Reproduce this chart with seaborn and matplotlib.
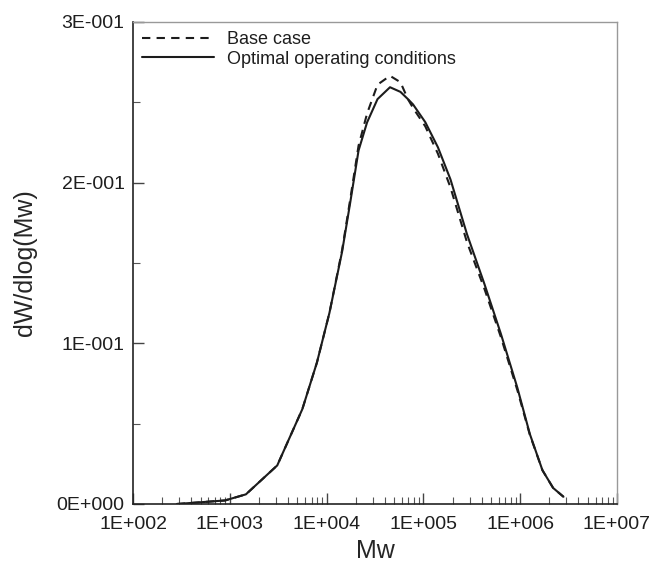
import numpy as np
import pandas as pd
import matplotlib
matplotlib.use("Agg")
import matplotlib.pyplot as plt
import matplotlib.ticker as mticker
import seaborn as sns

# molecular weight grid
mw = [284, 891, 1466, 3090, 5610, 7940, 10700, 14450, 17580, 21380, 26180,
      33570, 45190, 57940, 69180, 78160, 104700, 141300, 190500, 281800,
      426600, 631000, 933300, 1259000, 1698000, 2188000, 2800000]

base_case = [0.0, 0.0022, 0.006, 0.024, 0.059, 0.088, 0.119, 0.158, 0.190,
             0.223, 0.243, 0.261, 0.2665, 0.2625, 0.252, 0.2465, 0.235,
             0.218, 0.197, 0.163, 0.134, 0.104, 0.071, 0.043, 0.021, 0.010,
             0.0045]

optimal = [0.0, 0.0022, 0.006, 0.024, 0.059, 0.088, 0.119, 0.157, 0.188,
           0.220, 0.2375, 0.252, 0.2594, 0.2565, 0.252, 0.2487, 0.2376,
           0.222, 0.202, 0.168, 0.137, 0.106, 0.0725, 0.0435, 0.021, 0.010,
           0.0045]

series_names = ["Base case", "Optimal operating conditions"]

x_ticks = [1e2, 1e3, 1e4, 1e5, 1e6, 1e7]
x_tick_labels = ["1E+002", "1E+003", "1E+004", "1E+005", "1E+006", "1E+007"]
y_ticks = [0.0, 0.1, 0.2, 0.3]
y_tick_labels = ["0E+000", "1E-001", "2E-001", "3E-001"]

df = pd.concat([
    pd.DataFrame({"Mw": mw, "dW": base_case, "case": series_names[0]}),
    pd.DataFrame({"Mw": mw, "dW": optimal, "case": series_names[1]}),
])

sns.set_style("ticks")
plt.rcParams["font.family"] = ["Liberation Sans", "DejaVu Sans"]
plt.rcParams["text.color"] = "#1e1e1e"

fig = plt.figure(figsize=(6.54, 5.64), dpi=100)
ax = fig.add_axes([0.2034, 0.1064, 0.740, 0.8546])

sns.lineplot(data=df, x="Mw", y="dW", hue="case", style="case",
             palette=["#1c1c1c", "#1c1c1c"],
             dashes={series_names[0]: (4, 3), series_names[1]: ""},
             linewidth=1.5, ax=ax, sort=False)

ax.set_xscale("log")
ax.set_xlim(1e2, 1e7)
ax.set_ylim(0, 0.3)
ax.set_xticks(x_ticks)
ax.set_xticklabels(x_tick_labels)
ax.set_yticks(y_ticks)
ax.set_yticklabels(y_tick_labels)
ax.xaxis.set_minor_locator(mticker.LogLocator(base=10, subs=np.arange(2, 10)))
ax.xaxis.set_minor_formatter(mticker.NullFormatter())
ax.yaxis.set_minor_locator(mticker.MultipleLocator(0.05))

ax.tick_params(axis="both", which="major", direction="in", length=8,
               width=1, labelsize=14, color="#444444", labelcolor="#1e1e1e")
ax.tick_params(axis="both", which="minor", direction="in", length=5,
               width=0.8, color="#555555")
ax.tick_params(axis="x", which="major", pad=9)
ax.tick_params(axis="y", which="major", pad=6)

for side in ["left", "bottom"]:
    ax.spines[side].set_color("#222222")
    ax.spines[side].set_linewidth(1.2)
for side in ["top", "right"]:
    ax.spines[side].set_color("#999999")
    ax.spines[side].set_linewidth(1.0)

ax.set_xlabel("Mw", fontsize=18, labelpad=4)
ax.set_ylabel("dW/dlog(Mw)", fontsize=18, labelpad=14)

ax.legend(loc="upper left", frameon=False, fontsize=13, handlelength=4.0,
          borderaxespad=0.1, handletextpad=0.7, labelspacing=0.15)

fig.savefig("out.png", dpi=100)
